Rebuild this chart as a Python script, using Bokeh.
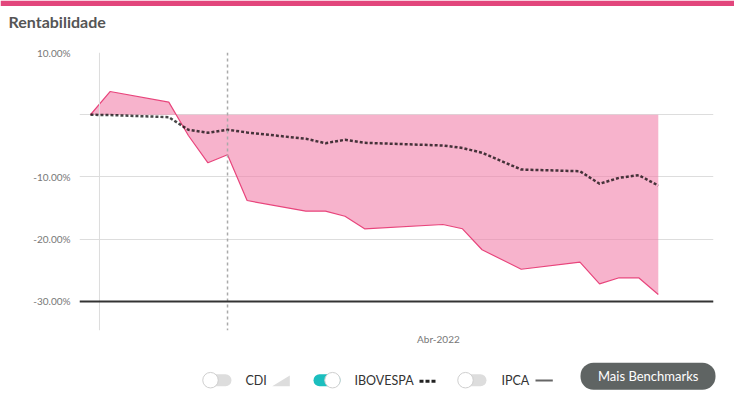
from bokeh.plotting import figure
from bokeh.layouts import column
from bokeh.models import Range1d, FixedTicker, Span
from bokeh.core.properties import value
from bokeh.embed import file_html
from bokeh.resources import INLINE

# ---------------- data ----------------
x_index = [0, 1, 4, 5, 6, 7, 8, 11, 12, 13, 14, 18, 19, 20, 22, 25, 26, 27, 28, 29]
fund_return = [0.0, 3.73, 2.02, -3.33, -7.72, -6.43, -13.78, -15.49, -15.49, -16.3,
               -18.32, -17.63, -18.32, -21.69, -24.82, -23.69, -27.16, -26.19, -26.19, -28.88]
ibovespa = [0.0, -0.05, -0.39, -2.42, -2.9, -2.4, -2.85, -3.86, -4.57, -4.02,
            -4.51, -4.94, -5.34, -6.11, -8.8, -9.07, -11.09, -10.13, -9.71, -11.37]
y_ticks = [10, 0, -10, -20, -30]
y_tick_labels = ["10.00%", "", "-10.00%", "-20.00%", "-30.00%"]
x_ticks = [17.77]
x_tick_labels = ["Abr-2022"]
first_marker = 0.46
crosshair_x = 7
legend_names = ["CDI", "IBOVESPA", "IPCA"]
legend_active = [False, True, False]
title_text = "Rentabilidade"
button_text = "Mais Benchmarks"

# ---------------- layout (page pixel coordinates) ----------------
PAGE_L, PAGE_R = 0, 734
HEAD_T, HEAD_B = 0, 40
CHART_T, CHART_B = 40, 355
LEG_T, LEG_B = 355, 398
FL, FR, FT, FB = 79, 713, 52, 330
FONT = "Lato"
WIDTH = PAGE_R - PAGE_L


def blank(top, bottom):
    f = figure(width=WIDTH, height=bottom - top, x_range=Range1d(PAGE_L, PAGE_R),
               y_range=Range1d(bottom, top), output_backend="svg", toolbar_location=None,
               x_axis_type=None, y_axis_type=None, min_border=0)
    f.frame_align = False
    f.grid.visible = False
    f.outline_line_color = None
    f.background_fill_color = "white"
    f.border_fill_color = "white"
    return f


# ---------------- header ----------------
head = blank(HEAD_T, HEAD_B)
head.quad(left=[PAGE_L], right=[PAGE_R], top=[0], bottom=[5.5],
          fill_color="#E2467C", line_color=None)
head.text(x=[8], y=[20.5], text=[title_text], text_font=value(FONT),
          text_font_style="bold", text_font_size="16px", text_color="#555555",
          text_baseline="middle", text_align="left")

# ---------------- chart ----------------
p = figure(width=WIDTH, height=CHART_B - CHART_T, x_range=Range1d(-0.56, 31.82),
           y_range=Range1d(-34.66, 10), output_backend="svg", toolbar_location=None,
           min_border_left=FL - PAGE_L, min_border_right=PAGE_R - FR,
           min_border_top=FT - CHART_T, min_border_bottom=CHART_B - FB)
p.frame_align = False
p.outline_line_color = None
p.background_fill_color = "white"
p.border_fill_color = "white"

p.yaxis.ticker = FixedTicker(ticks=y_ticks)
p.yaxis.major_label_overrides = {t: l for t, l in zip(y_ticks, y_tick_labels)}
p.yaxis.axis_line_color = None
p.yaxis.major_tick_line_color = None
p.yaxis.minor_tick_line_color = None
p.yaxis.major_tick_out = 0
p.yaxis.major_tick_in = 0
p.yaxis.minor_tick_out = 0
p.yaxis.major_label_standoff = 9
p.yaxis.major_label_text_font = FONT
p.yaxis.major_label_text_font_size = "10px"
p.yaxis.major_label_text_color = "#777777"

p.xaxis.ticker = FixedTicker(ticks=x_ticks)
p.xaxis.major_label_overrides = {t: l for t, l in zip(x_ticks, x_tick_labels)}
p.xaxis.axis_line_color = None
p.xaxis.major_tick_line_color = None
p.xaxis.minor_tick_line_color = None
p.xaxis.major_tick_out = 0
p.xaxis.major_tick_in = 0
p.xaxis.minor_tick_out = 0
p.xaxis.major_label_standoff = 2
p.xaxis.major_label_text_font = FONT
p.xaxis.major_label_text_font_size = "10px"
p.xaxis.major_label_text_color = "#777777"

p.xgrid.grid_line_color = None
p.ygrid.ticker = FixedTicker(ticks=y_ticks)
p.ygrid.grid_line_color = "#dddddd"
p.ygrid.grid_line_width = 1

p.add_layout(Span(location=first_marker, dimension="height", line_color="#dddddd", line_width=1))
p.add_layout(Span(location=crosshair_x, dimension="height", line_color="#aaaaaa",
                  line_width=1.5, line_dash="3 3"))
p.add_layout(Span(location=y_ticks[-1], dimension="width", line_color="#333333", line_width=2))

p.varea(x=x_index, y1=0, y2=fund_return, fill_color="#F280AA", fill_alpha=0.6)
p.line(x_index, fund_return, line_color="#E8457C", line_width=1.2)
p.line(x_index, ibovespa, line_color="#000000", line_alpha=0.72, line_width=2.5,
       line_dash="3 2")

# ---------------- legend ----------------
leg = blank(LEG_T, LEG_B)
toggle_left = [202, 311, 457]
text_left = [245, 354, 501]
for name, on, tl, xl in zip(legend_names, legend_active, toggle_left, text_left):
    leg.quad(left=[tl + 2], right=[tl + 29], top=[373.7], bottom=[385.7],
             fill_color="#1BBEBE" if on else "#dddddd", line_color=None, border_radius=6)
    cx = tl + 21 if on else tl + 8
    leg.scatter(x=[cx], y=[379.7], size=15.5, marker="circle", fill_color="white",
                line_color="#cfcfcf", line_width=1)
    leg.text(x=[xl], y=[380], text=[name], text_font=value(FONT), text_font_size="12.5px",
             text_color="#333333", text_baseline="middle", text_align="left")

# CDI icon: grey wedge
leg.patch(x=[271.7, 289.3, 289.3], y=[385.7, 385.7, 375], fill_color="#dddddd", line_color=None)
# IBOVESPA icon: dashes
leg.line(x=[419, 436], y=[380.7, 380.7], line_color="#222222", line_width=3,
         line_dash="4 2")
# IPCA icon: line
leg.line(x=[535, 552.3], y=[380, 380], line_color="#666666", line_width=2)

# button
leg.quad(left=[580], right=[715], top=[362.3], bottom=[389.3], fill_color="#5F6463",
         line_color=None, border_radius=13)
leg.text(x=[647.7], y=[375.3], text=[button_text], text_font=value(FONT), text_font_size="13px",
         text_color="white", text_baseline="middle", text_align="center")

layout = column(head, p, leg, spacing=0)
open("out.html", "w").write(file_html(layout, INLINE))
